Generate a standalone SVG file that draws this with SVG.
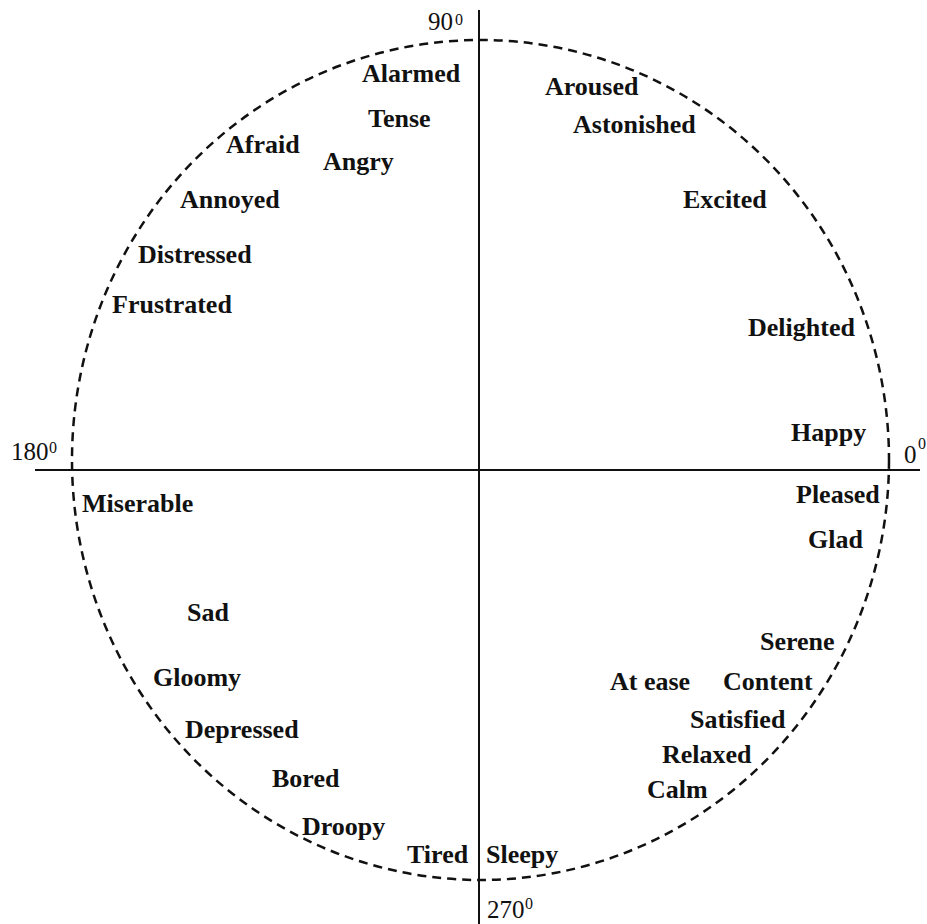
<svg xmlns="http://www.w3.org/2000/svg" width="927" height="924" viewBox="0 0 927 924">
<style>
.lbl{font-family:"Liberation Serif","Times New Roman",serif;font-weight:bold;font-size:26px;fill:#111}
.deg{font-family:"Liberation Serif","Times New Roman",serif;font-size:25px;fill:#111}
.sup{font-family:"Liberation Serif","Times New Roman",serif;font-size:16px;fill:#111}
.axis{stroke:#111;stroke-width:2;fill:none}
.ring{stroke:#111;stroke-width:2.5;fill:none;stroke-dasharray:9 6}
</style>
<rect width="927" height="924" fill="#fff"/>
<g id="connectors">
<ellipse class="ring" cx="480.5" cy="460" rx="408.5" ry="420"/>
<line class="axis" x1="479" y1="10" x2="479" y2="924"/>
<line class="axis" x1="35" y1="470" x2="920" y2="470"/>
</g>
<g id="degrees">
<text class="deg" x="428" y="30">90</text><text class="sup" x="455" y="25">0</text>
<text class="deg" x="11" y="460">180</text><text class="sup" x="49" y="453">0</text>
<text class="deg" x="904" y="463">0</text><text class="sup" x="918" y="449">0</text>
<text class="deg" x="487" y="918">270</text><text class="sup" x="525" y="909">0</text>
</g>
<g id="n-alarmed"><text class="lbl" x="362" y="82">Alarmed</text></g>
<g id="n-tense"><text class="lbl" x="368" y="127">Tense</text></g>
<g id="n-afraid"><text class="lbl" x="226" y="153">Afraid</text></g>
<g id="n-angry"><text class="lbl" x="323" y="170">Angry</text></g>
<g id="n-annoyed"><text class="lbl" x="180" y="208">Annoyed</text></g>
<g id="n-distressed"><text class="lbl" x="138" y="263">Distressed</text></g>
<g id="n-frustrated"><text class="lbl" x="112" y="313">Frustrated</text></g>
<g id="n-aroused"><text class="lbl" x="545" y="95">Aroused</text></g>
<g id="n-astonished"><text class="lbl" x="573" y="133">Astonished</text></g>
<g id="n-excited"><text class="lbl" x="683" y="208">Excited</text></g>
<g id="n-delighted"><text class="lbl" x="748" y="336">Delighted</text></g>
<g id="n-happy"><text class="lbl" x="791" y="441">Happy</text></g>
<g id="n-pleased"><text class="lbl" x="796" y="503">Pleased</text></g>
<g id="n-glad"><text class="lbl" x="808" y="548">Glad</text></g>
<g id="n-miserable"><text class="lbl" x="82" y="512">Miserable</text></g>
<g id="n-sad"><text class="lbl" x="187" y="621">Sad</text></g>
<g id="n-gloomy"><text class="lbl" x="153" y="686">Gloomy</text></g>
<g id="n-depressed"><text class="lbl" x="185" y="738">Depressed</text></g>
<g id="n-bored"><text class="lbl" x="272" y="787">Bored</text></g>
<g id="n-droopy"><text class="lbl" x="302" y="835">Droopy</text></g>
<g id="n-tired"><text class="lbl" x="407" y="863">Tired</text></g>
<g id="n-sleepy"><text class="lbl" x="486" y="863">Sleepy</text></g>
<g id="n-serene"><text class="lbl" x="760" y="650">Serene</text></g>
<g id="n-atease"><text class="lbl" x="610" y="690">At ease</text></g>
<g id="n-content"><text class="lbl" x="723" y="690">Content</text></g>
<g id="n-satisfied"><text class="lbl" x="690" y="728">Satisfied</text></g>
<g id="n-relaxed"><text class="lbl" x="662" y="763">Relaxed</text></g>
<g id="n-calm"><text class="lbl" x="647" y="798">Calm</text></g>
</svg>
